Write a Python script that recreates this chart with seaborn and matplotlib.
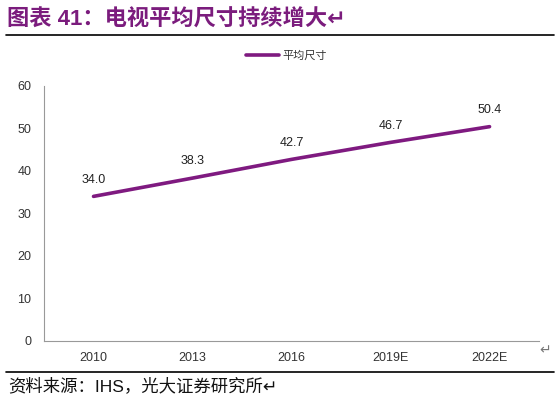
import matplotlib
matplotlib.use('Agg')
import matplotlib.pyplot as plt
import seaborn as sns
import pandas as pd

# données
annees = ["2010", "2013", "2016", "2019E", "2022E"]
taille_moyenne = [34.0, 38.3, 42.7, 46.7, 50.4]
nom_serie = "平均尺寸"
titre = "图表 41：电视平均尺寸持续增大\u21b5"
source = "资料来源：IHS，光大证券研究所\u21b5"

sns.set_theme(style="white")
plt.rcParams['font.family'] = ['Liberation Sans', 'Noto Sans CJK SC', 'DejaVu Sans']

violet = "#7f1a80"
df = pd.DataFrame({"annee": annees, "taille": taille_moyenne})

fig = plt.figure(figsize=(5.6, 4.03), dpi=100)
ax = fig.add_axes([0.0786, 0.154, 0.884, 0.633])

sns.lineplot(data=df, x="annee", y="taille", color=violet, linewidth=2.6,
             label=nom_serie, ax=ax, sort=False)

ax.set_xlim(-0.5, 4.5)
ax.set_ylim(0, 60)
ax.set_yticks(range(0, 61, 10))
ax.set_xlabel("")
ax.set_ylabel("")
ax.tick_params(axis='both', labelsize=9, colors="#333333", length=0)
ax.tick_params(axis='x', pad=8)
ax.tick_params(axis='y', pad=9)
ax.set_xticks([i - 0.5 for i in range(6)], minor=True)
ax.tick_params(axis='x', which='minor', length=3, direction='in', color="#999999")

for s in ["top", "right"]:
    ax.spines[s].set_visible(False)
for s in ["left", "bottom"]:
    ax.spines[s].set_color("#999999")
    ax.spines[s].set_linewidth(0.8)

for i, v in enumerate(taille_moyenne):
    ax.annotate(f"{v:.1f}", (i, v), xytext=(0, 12), textcoords="offset points",
                ha="center", va="center", fontsize=9, color="#222222")

leg = ax.legend(loc="center", bbox_to_anchor=(0.49, 1.118), frameon=False,
                fontsize=8, handlelength=3, handletextpad=0.3)
for t in leg.get_texts():
    t.set_color("#333333")

fig.text(0.012, 0.951, titre, fontsize=16, fontweight="bold", color="#7b1c7d",
         va="center", ha="left")
fig.add_artist(plt.Line2D([0.01, 0.99], [0.914, 0.914], color="black", linewidth=1.2))
fig.add_artist(plt.Line2D([0.01, 0.99], [0.077, 0.077], color="black", linewidth=1.2))
fig.text(0.014, 0.044, source, fontsize=12.5, color="#111111", va="center", ha="left")
fig.text(0.963, 0.13, "\u21b5", fontsize=10, color="#777777", va="center")

fig.savefig("out.png", dpi=100)
